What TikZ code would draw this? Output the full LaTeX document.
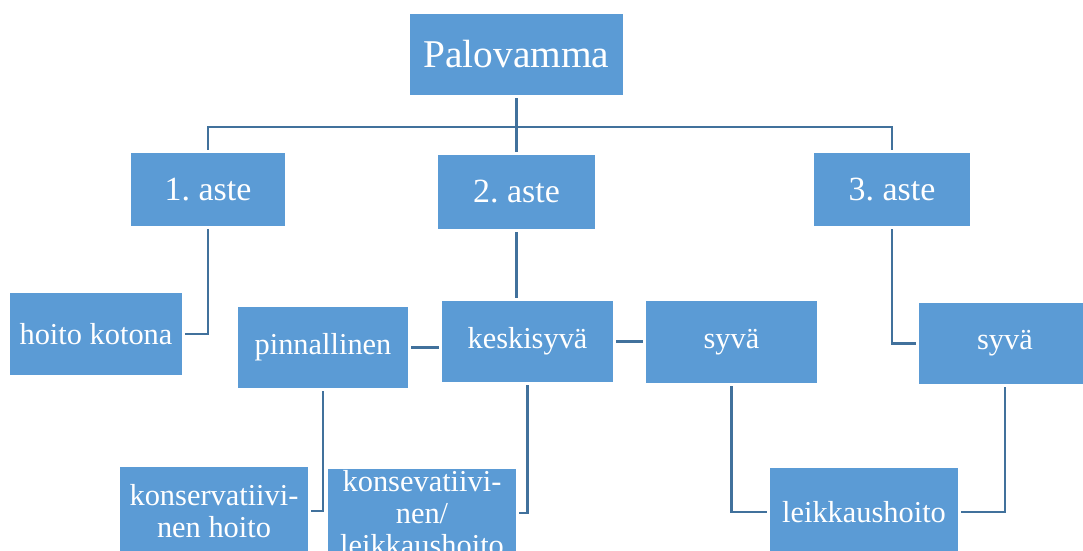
\documentclass[tikz,border=0pt]{standalone}
\usepackage{fontspec}
\setmainfont{Liberation Serif}
\usetikzlibrary{calc}
\frenchspacing

\definecolor{boxblue}{RGB}{91,155,213}
\definecolor{lineblue}{RGB}{65,113,156}

\begin{document}
\begin{tikzpicture}[x=0.02cm, y=-0.02cm,
	blok/.style={fill=boxblue, draw=white, line width=0.6pt, text=white, inner sep=0pt, align=center,
		font=\fontsize{17.3}{18.2}\selectfont},
	link/.style={draw=lineblue, line width=1.4pt, shorten <=1pt, shorten >=1pt}]
	
	\useasboundingbox (0,0) rectangle (1083,551);
	\clip (0,0) rectangle (1083,551);
	
	\node[blok, minimum width=4.3cm, minimum height=1.66cm, font=\fontsize{22.4}{27}\selectfont] (pal) at (516.5,54.5) {Palovamma};
	
	\node[blok, minimum width=3.12cm, minimum height=1.5cm, font=\fontsize{19.3}{23}\selectfont] (aste1) at (208,189.5) {1. aste};
	\node[blok, minimum width=3.18cm, minimum height=1.52cm, font=\fontsize{19.3}{23}\selectfont] (aste2) at (516.5,192) {\raisebox{-0.28cm}{2. aste}};
	\node[blok, minimum width=3.16cm, minimum height=1.5cm, font=\fontsize{19.3}{23}\selectfont] (aste3) at (892,189.5) {3. aste};
	
	\node[blok, minimum width=3.48cm, minimum height=1.68cm] (koti) at (96,334) {hoito kotona};
	\node[blok, minimum width=3.44cm, minimum height=1.66cm] (pinn) at (323,347.5) {\raisebox{-0.06cm}{pinnallinen}};
	\node[blok, minimum width=3.46cm, minimum height=1.66cm] (keski) at (527.5,341.5) {keskisyvä};
	\node[blok, minimum width=3.46cm, minimum height=1.68cm] (syva1) at (731.5,342) {syvä};
	\node[blok, minimum width=3.48cm, minimum height=1.66cm] (syva2) at (1005,343.5) {syvä};
	
	\node[blok, minimum width=3.8cm, minimum height=1.8cm] (kons1) at (214,511) {konservatiivi-\\nen hoito};
	\node[blok, minimum width=3.8cm, minimum height=1.8cm] (kons2) at (422,513) {konsevatiivi-\\nen/\\leikkaushoito};
	\node[blok, minimum width=3.8cm, minimum height=1.8cm] (leik) at (864,512) {leikkaushoito};
	
	\coordinate (bus) at (516.5,127);
	
	\draw[link] (pal) -- (aste2);
	\draw[link] (aste1.north) |- (bus) -| (aste3.north);
	
	\draw[link] (aste1.south) |- (koti.east);
	\draw[link] (aste2.south) -- (aste2.south |- keski.north);
	\draw[link] (keski.west |- pinn.east) -- (pinn.east);
	\draw[link] (keski.east) -- (keski.east -| syva1.west);
	\draw[link] (aste3.south) |- (syva2.west);
	
	\draw[link] (pinn.south) |- (kons1.east);
	\draw[link] (keski.south) |- (kons2.east);
	\draw[link] (syva1.south) |- (leik.west);
	\draw[link] (syva2.south) |- (leik.east);
	
\end{tikzpicture}
\end{document}
